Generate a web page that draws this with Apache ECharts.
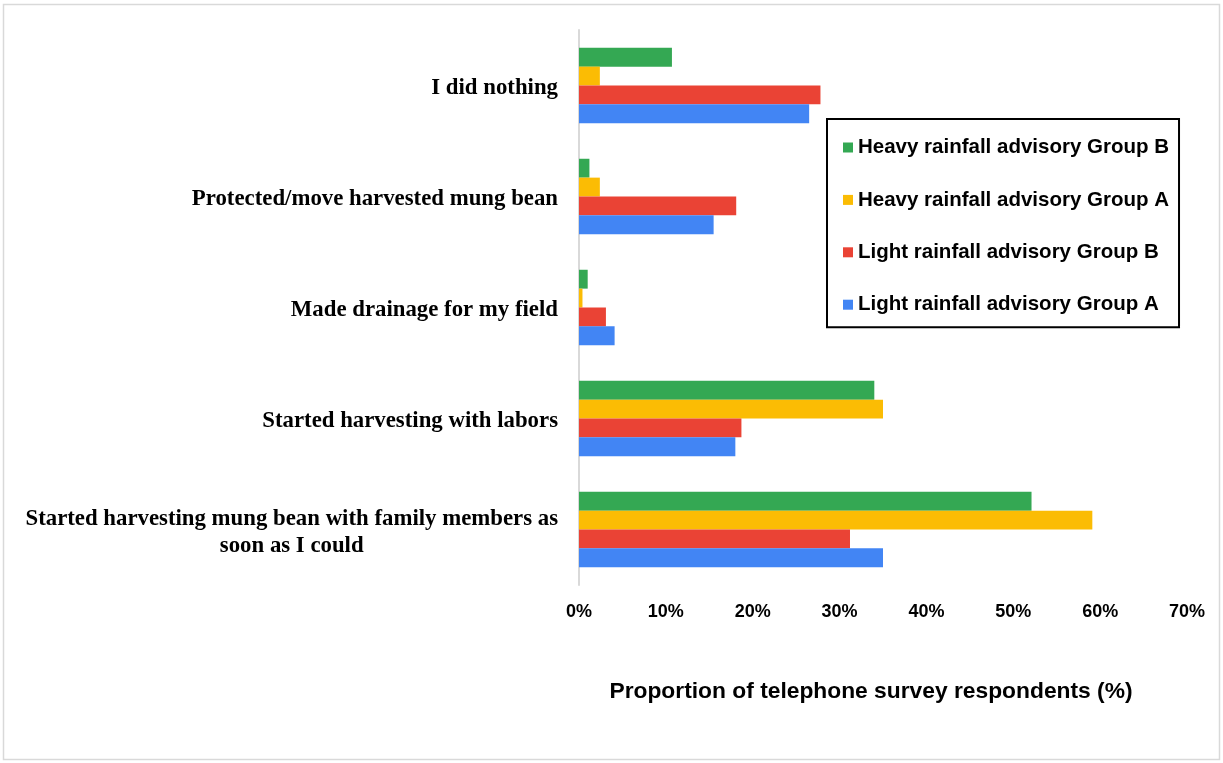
<!DOCTYPE html>
<html>
<head>
<meta charset="utf-8">
<script src="https://cdn.jsdelivr.net/npm/echarts@6/dist/echarts.min.js"></script>
<style>
html,body{margin:0;padding:0;background:#fff;}
#c{width:1223px;height:763px;}
</style>
</head>
<body>
<div id="c"></div>
<script>
// Categories (bottom to top, as drawn on the category axis)
const categories = [
  'Started harvesting mung bean with family members as\nsoon as I could',
  'Started harvesting with labors',
  'Made drainage for my field',
  'Protected/move harvested mung bean',
  'I did nothing'
];
// Series in order top-to-bottom within each group (also legend order)
const seriesNames = [
  'Heavy rainfall advisory Group B',
  'Heavy rainfall advisory Group A',
  'Light rainfall advisory Group B',
  'Light rainfall advisory Group A'
];
const heavyB = [52.1, 34.0, 1.0, 1.2, 10.7];
const heavyA = [59.1, 35.0, 0.4, 2.4, 2.4];
const lightB = [31.2, 18.7, 3.1, 18.1, 27.8];
const lightA = [35.0, 18.0, 4.1, 15.5, 26.5];
const xTicks = [0, 10, 20, 30, 40, 50, 60, 70];

const colors = ['#34A853', '#FBBC04', '#EA4335', '#4285F4'];
const values = [heavyB, heavyA, lightB, lightA];

const chart = echarts.init(document.getElementById('c'));
const sansFont = '"Liberation Sans", Arial, sans-serif';
const serifFont = '"Liberation Serif", "Times New Roman", serif';

chart.setOption({
  backgroundColor: '#fff',
  animation: false,
  graphic: [{
    type: 'rect',
    shape: { x: 3.5, y: 4.5, width: 1216, height: 755 },
    style: { fill: 'none', stroke: '#d9d9d9', lineWidth: 1.5 },
    silent: true
  }],
  grid: { left: 579, right: 36, top: 30, bottom: 178 },
  legend: {
    orient: 'vertical',
    left: 827,
    top: 119,
    data: seriesNames,
    icon: 'rect',
    itemWidth: 10,
    itemHeight: 10,
    itemGap: 31.4,
    padding: [18, 10, 12, 16],
    borderColor: '#000',
    borderWidth: 2,
    textStyle: {
      fontFamily: sansFont, fontWeight: 'bold', fontSize: 20.5, color: '#000', lineHeight: 20
    }
  },
  xAxis: {
    type: 'value',
    min: 0,
    max: 70,
    interval: 10,
    axisLine: { show: false },
    axisTick: { show: false },
    splitLine: { show: false },
    axisLabel: {
      margin: 18,
      fontFamily: sansFont, fontWeight: 'bold', fontSize: 18, color: '#000',
      formatter: v => xTicks.includes(v) ? v + '%' : ''
    },
    name: 'Proportion of telephone survey respondents (%)',
    nameLocation: 'middle',
    nameGap: 95,
    nameTextStyle: {
      fontFamily: sansFont, fontWeight: 'bold', fontSize: 22.8, color: '#000',
      padding: [0, 24, 0, 0]
    }
  },
  yAxis: {
    type: 'category',
    data: categories,
    axisLine: { show: true, lineStyle: { color: '#d9d9d9', width: 2 } },
    axisTick: { show: false },
    axisLabel: {
      margin: 21,
      align: 'right',
      padding: [6, 0, 0, 0],
      formatter: v => v.split('\n').map(s => '{a|' + s + '}').join('\n'),
      rich: {
        a: {
          fontFamily: serifFont, fontWeight: 'bold', fontSize: 22.8, color: '#000',
          align: 'center', lineHeight: 27
        }
      }
    }
  },
  series: seriesNames.map((n, i) => ({
    name: n,
    type: 'bar',
    data: values[i],
    itemStyle: { color: colors[i] },
    barGap: '0%',
    barCategoryGap: '32%'
  }))
});
</script>
</body>
</html>
